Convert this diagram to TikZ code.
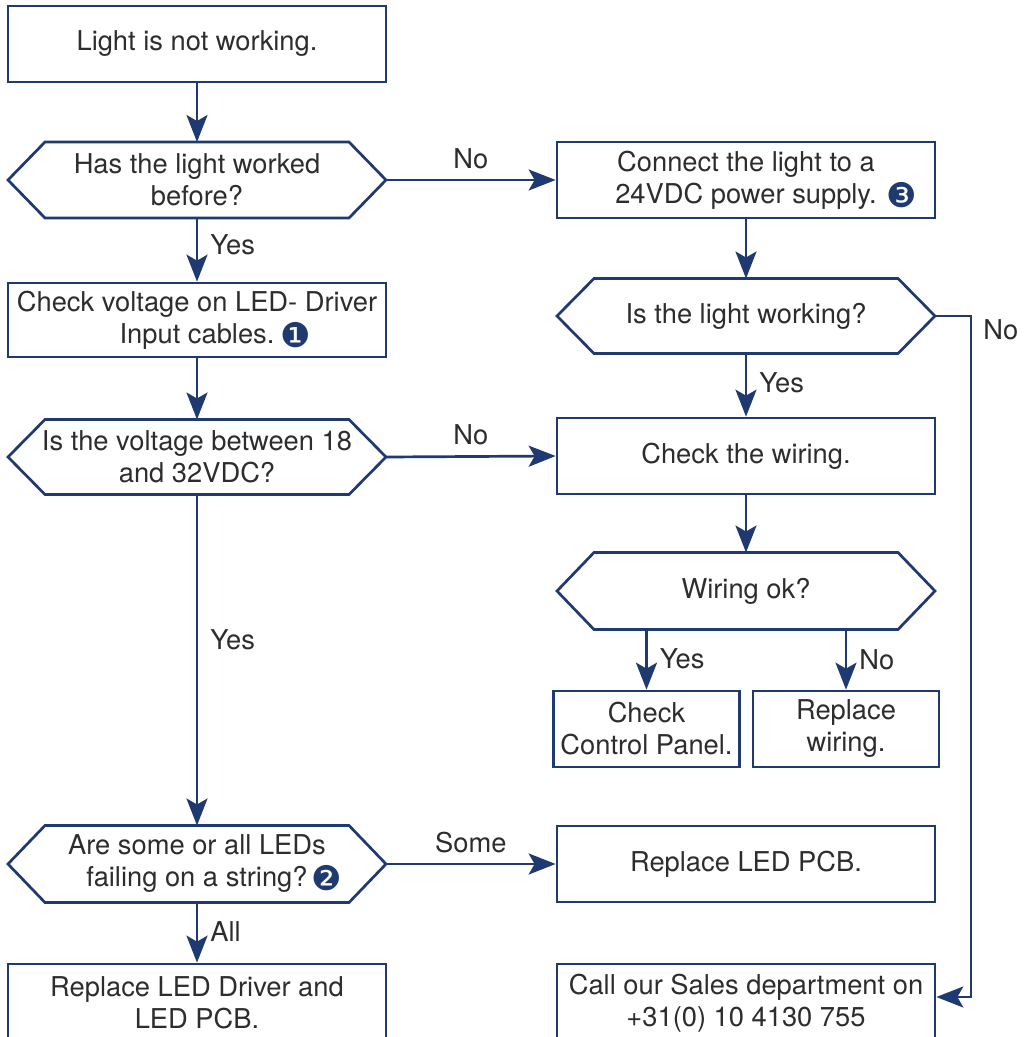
\documentclass[tikz,border=0pt]{standalone}
\usepackage{fontspec}
\setmainfont{TeX Gyre Heros}
\newfontfamily\dvs{DejaVu Sans}
\usetikzlibrary{arrows.meta,calc}
\definecolor{lineblue}{RGB}{31,58,112}
\definecolor{txt}{RGB}{45,45,45}
\newcommand\circnum[2]{\rlap{\hspace{#1}\smash{\raisebox{-4pt}{\dvs\fontsize{34}{34}\selectfont\color{lineblue}#2}}}}
\newcommand\hexpath[1]{\draw[draw=lineblue,line width=2.7pt,line join=miter]
  (#1.west) -- ([xshift=37pt]#1.north west) -- ([xshift=-37pt]#1.north east) -- (#1.east)
  -- ([xshift=-37pt]#1.south east) -- ([xshift=37pt]#1.south west) -- cycle;}
\begin{document}
\begin{tikzpicture}[x=1pt,y=-1pt,
  every node/.style={font=\fontsize{27.3}{32}\selectfont, text=txt},
  box/.style={draw=lineblue, line width=2.7pt, minimum width=378pt, minimum height=76pt, align=center, inner sep=0pt},
  hexn/.style={minimum width=378pt, minimum height=76pt, align=center, inner sep=0pt, outer sep=0pt},
  smallbox/.style={box, minimum width=186pt},
  arr/.style={draw=lineblue, line width=2.7pt, -{Stealth[length=27pt,width=21pt,inset=6pt]}},
  lab/.style={inner sep=2pt}
]
\useasboundingbox (0,0) rectangle (1029,1037);
\fill[white] (0,0) rectangle (1029,1037);
\clip (0,0) rectangle (1029,1037);

% left column
\node[box] (a) at (197,44) {Light is not working.};
\node[hexn] (b) at (197,180) {Has the light worked\\before?};
\hexpath{b}
\node[box, minimum height=74pt] (d) at (197,320) {Check voltage on LED- Driver\\Input cables.\circnum{6pt}{❶}};
\node[hexn, minimum height=75pt] (e) at (197,457) {Is the voltage between 18\\and 32VDC?};
\hexpath{e}
\node[hexn, minimum height=77pt] (l) at (197,864) {Are some or all LEDs\\failing on a string?\circnum{4pt}{❷}};
\hexpath{l}
\node[box, minimum height=78pt] (n) at (197,1003) {Replace LED Driver and\\LED PCB.};

% right column
\node[box] (c) at (746,180) {Connect the light to a\\24VDC power supply.\circnum{10pt}{❸}};
\node[hexn, minimum height=75pt] (g) at (746,316) {Is the light working?};
\hexpath{g}
\node[box] (f) at (746,456) {Check the wiring.};
\node[hexn, minimum height=77pt] (i) at (746,591) {Wiring ok?};
\hexpath{i}
\node[smallbox] (j) at (646.5,729) {Check\\Control Panel.};
\node[smallbox] (k) at (846,729) {Replace\\wiring.};
\node[box] (m) at (746,864) {Replace LED PCB.};
\node[box, minimum height=78pt] (h) at (746,1003) {Call our Sales department on\\+31(0) 10 4130 755};

% connectors
\draw[arr] (a.south) -- (b.north);
\draw[arr] (b.east) -- node[lab, above=8pt]{No} (c.west);
\draw[arr] (b.south) -- node[lab, pos=0.42, right=10pt]{Yes} (d.north);
\draw[arr] (d.south) -- (e.north);
\draw[arr] (e.east) -- node[lab, above=8pt]{No} (f.west);
\draw[arr] (e.south) -- node[lab, pos=0.44, right=10pt]{Yes} (l.north);
\draw[arr] (l.east) -- node[lab, above=8pt]{Some} (m.west);
\draw[arr] (l.south) -- node[lab, pos=0.48, right=10pt]{All} (n.north);
\draw[arr] (c.south) -- (g.north);
\draw[arr] (g.south) -- node[lab, pos=0.47, right=10pt]{Yes} (f.north);
\draw[arr] (f.south) -- (i.north);
\draw[arr] (i.south -| j.north) -- node[lab, pos=0.49, right=10pt]{Yes} (j.north);
\draw[arr] (i.south -| k.north) -- node[lab, pos=0.5, right=10pt]{No} (k.north);
\draw[arr] (g.east) -- ++(36,0) node[lab, anchor=north west, xshift=9pt]{No} |- ([yshift=6pt]h.east);
\end{tikzpicture}
\end{document}
